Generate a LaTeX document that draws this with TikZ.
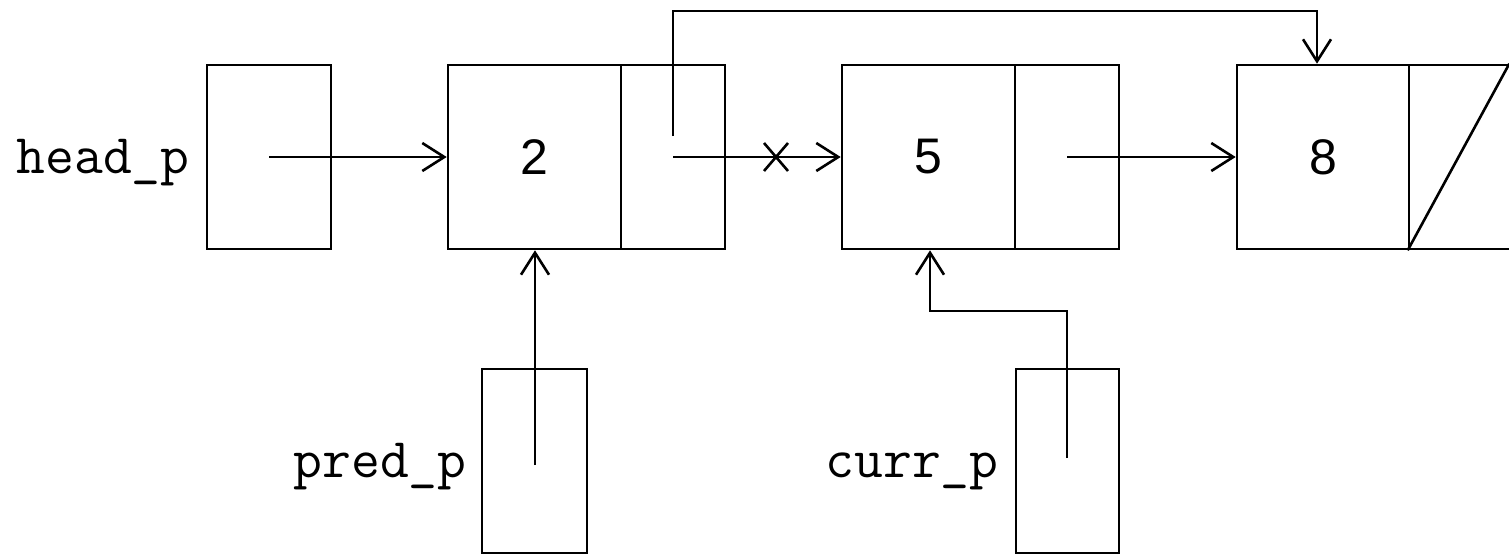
\documentclass[tikz,border=0pt]{standalone}
\usepackage{fontspec}
\newfontfamily\numfont{Liberation Sans}
\usetikzlibrary{arrows.meta,calc}
\tikzset{
  cell/.style={draw, line width=2.6pt, inner sep=0pt, minimum height=184pt, font=\numfont\fontsize{50}{56}\selectfont},
  datacell/.style={cell, minimum width=173pt},
  nextcell/.style={cell, minimum width=104pt},
  ptrbox/.style={cell, minimum width=104pt},
  ptr/.style={line width=2.6pt, -{Straight Barb[length=22pt,width=28pt]}},
  lbl/.style={anchor=base, inner sep=0pt, font=\ttfamily\fontsize{56}{60}\selectfont},
  wire/.style={line width=2.6pt}
}
\begin{document}
\begin{tikzpicture}[x=1pt,y=-1pt]
\useasboundingbox (0,0) rectangle (1509,555);
% boxes
\node[ptrbox, minimum width=124pt] (head) at (269,157) {};
\node[datacell] (d2) at (534.5,157) {2};
\node[nextcell] (x2) at (673,157) {};
\node[datacell] (d5) at (928.5,157) {5};
\node[nextcell] (x5) at (1067,157) {};
\node[datacell, minimum width=172pt] (d8) at (1323,157) {8};
\node[nextcell] (x8) at (1461,157) {};
\node[ptrbox, minimum width=105pt] (pred) at (534.5,461) {};
\node[ptrbox, minimum width=103pt] (curr) at (1067.5,461) {};
% null slash
\draw[wire] (x8.south west) -- ([xshift=-5pt]x8.north east);
% labels
\node[lbl] (headl) at (103,173) {head\_p};
\node[lbl] (predl) at (380,477) {pred\_p};
\node[lbl] (currl) at (912,477) {curr\_p};
% connectors
\draw[ptr] (head.center) -- (d2.west);
\draw[ptr] (x2.center) -- (d5.west);
\coordinate (xm) at (776,157);
\draw[wire] ($(xm)+(-12,-14)$) -- ($(xm)+(12,14)$);
\draw[wire] ($(xm)+(-12,14)$) -- ($(xm)+(12,-14)$);
\coordinate (s2) at (673,136);
\coordinate (topc) at (1317,11);
\draw[ptr] (s2) |- (topc) -- (topc |- d8.north);
\draw[ptr] (x5.center) -- (d8.west);
\coordinate (ps) at (535,465);
\draw[ptr] (ps) -- (ps |- d2.south);
\coordinate (cs) at (1067,458);
\coordinate (bend) at (930,311);
\draw[ptr] (cs) |- (bend) -- (bend |- d5.south);
\end{tikzpicture}
\end{document}
